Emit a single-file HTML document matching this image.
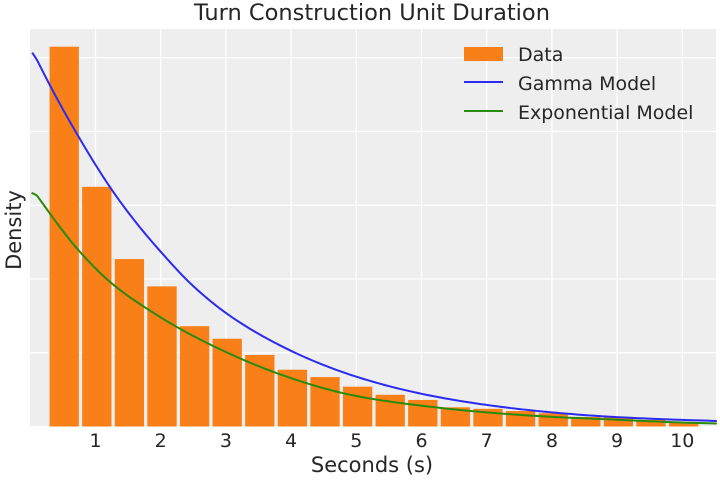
<!DOCTYPE html>
<html><head><meta charset="utf-8"><style>
body{margin:0;background:#fff;}
svg{display:block;font-family:"DejaVu Sans","Liberation Sans",sans-serif;}
</style></head><body>
<svg id="chart" width="720" height="480">
<rect x="30" y="29" width="686" height="397" fill="#eeeeee"/>
<g id="grid"></g><g id="bars"></g><g id="lines"></g><g id="ticks"></g>
<text x="372" y="20" font-size="22.5" fill="#262626" text-anchor="middle">Turn Construction Unit Duration</text>
<text x="372" y="472" font-size="21" fill="#262626" text-anchor="middle">Seconds (s)</text>
<text transform="translate(21,230) rotate(-90)" font-size="21" fill="#262626" text-anchor="middle">Density</text>
<g>
<rect x="464" y="47" width="39" height="14" fill="#f97f18"/>
<text x="518" y="61" font-size="19" fill="#262626">Data</text>
<line x1="464" y1="82" x2="503" y2="82" stroke="#2b2bf0" stroke-width="2"/>
<text x="518" y="90" font-size="19" fill="#262626">Gamma Model</text>
<line x1="464" y1="111" x2="503" y2="111" stroke="#2a8a0a" stroke-width="2"/>
<text x="518" y="119" font-size="19" fill="#262626">Exponential Model</text>
</g>
</svg>
<script>
const binStarts=[0.27,0.77,1.27,1.77,2.27,2.77,3.27,3.77,4.27,4.77,5.27,5.77,6.27,6.77,7.27,7.77,8.27,8.77,9.27,9.77];
const binValues=[0.515,0.325,0.227,0.190,0.136,0.119,0.097,0.077,0.067,0.054,0.043,0.036,0.026,0.024,0.021,0.018,0.013,0.013,0.009,0.006];
const gammaX=[0.03,0.12,0.74,1.25,2.0,2.48,3.0,3.92,5.02,6.02,7.02,8.02,9.04,10.53];
const gammaY=[0.507,0.494,0.393,0.321,0.237,0.192,0.154,0.106,0.067,0.044,0.029,0.019,0.0125,0.0075];
const expX=[0.02,0.12,0.74,1.25,2.0,3.0,3.92,5.02,6.02,7.02,8.02,9.04,10.53];
const expY=[0.317,0.311,0.239,0.194,0.148,0.101,0.068,0.041,0.028,0.019,0.013,0.009,0.004];
const xTicks=[1,2,3,4,5,6,7,8,9,10];
const yGrid=[0.1,0.2,0.3,0.4,0.5];
const binWidth=0.5, rwidth=0.9;
const NS='http://www.w3.org/2000/svg';
const X=v=>30.3+v*65.2;
const Y=v=>426.5-v*737.5;
function mk(tag,attrs,parent){const e=document.createElementNS(NS,tag);for(const k in attrs)e.setAttribute(k,attrs[k]);document.getElementById(parent).appendChild(e);return e;}
yGrid.forEach(v=>{const l=mk('line',{x1:30,x2:716,y1:Y(v),y2:Y(v),stroke:'#fff','stroke-width':1.3},'grid');

});
xTicks.forEach(v=>{const l=mk('line',{x1:X(v),x2:X(v),y1:29,y2:426,stroke:'#fff','stroke-width':1.3},'grid');


const t=mk('text',{x:X(v),y:447,'font-size':19,fill:'#262626','text-anchor':'middle'},'ticks');t.textContent=v;

});
binStarts.forEach((s,i)=>{const w=binWidth*rwidth;const x0=s+(binWidth-w)/2;
const r=mk('rect',{x:X(x0),y:Y(binValues[i]),width:X(x0+w)-X(x0),height:Y(0)-Y(binValues[i]),fill:'#f97f18'},'bars');

});
function logPath(xs,ys){const L=ys.map(Math.log),n=xs.length,m=[];
for(let i=0;i<n;i++){const a=Math.max(0,i-1),b=Math.min(n-1,i+1);m.push((L[b]-L[a])/(xs[b]-xs[a]));}
const pts=[];
for(let i=0;i<n-1;i++){const h=xs[i+1]-xs[i];for(let k=0;k<20;k++){const t=k/20,t2=t*t,t3=t2*t;
const v=(2*t3-3*t2+1)*L[i]+(t3-2*t2+t)*h*m[i]+(-2*t3+3*t2)*L[i+1]+(t3-t2)*h*m[i+1];
pts.push([X(xs[i]+h*t),Y(Math.exp(v))]);}}
pts.push([X(xs[n-1]),Y(ys[n-1])]);
return 'M'+pts.map(p=>p[0].toFixed(2)+','+p[1].toFixed(2)).join(' L');}
const g=mk('path',{d:logPath(gammaX,gammaY),fill:'none',stroke:'#2b2bf0','stroke-width':2},'lines');


const ex=mk('path',{d:logPath(expX,expY),fill:'none',stroke:'#2a8a0a','stroke-width':2},'lines');


</script>
</body></html>
